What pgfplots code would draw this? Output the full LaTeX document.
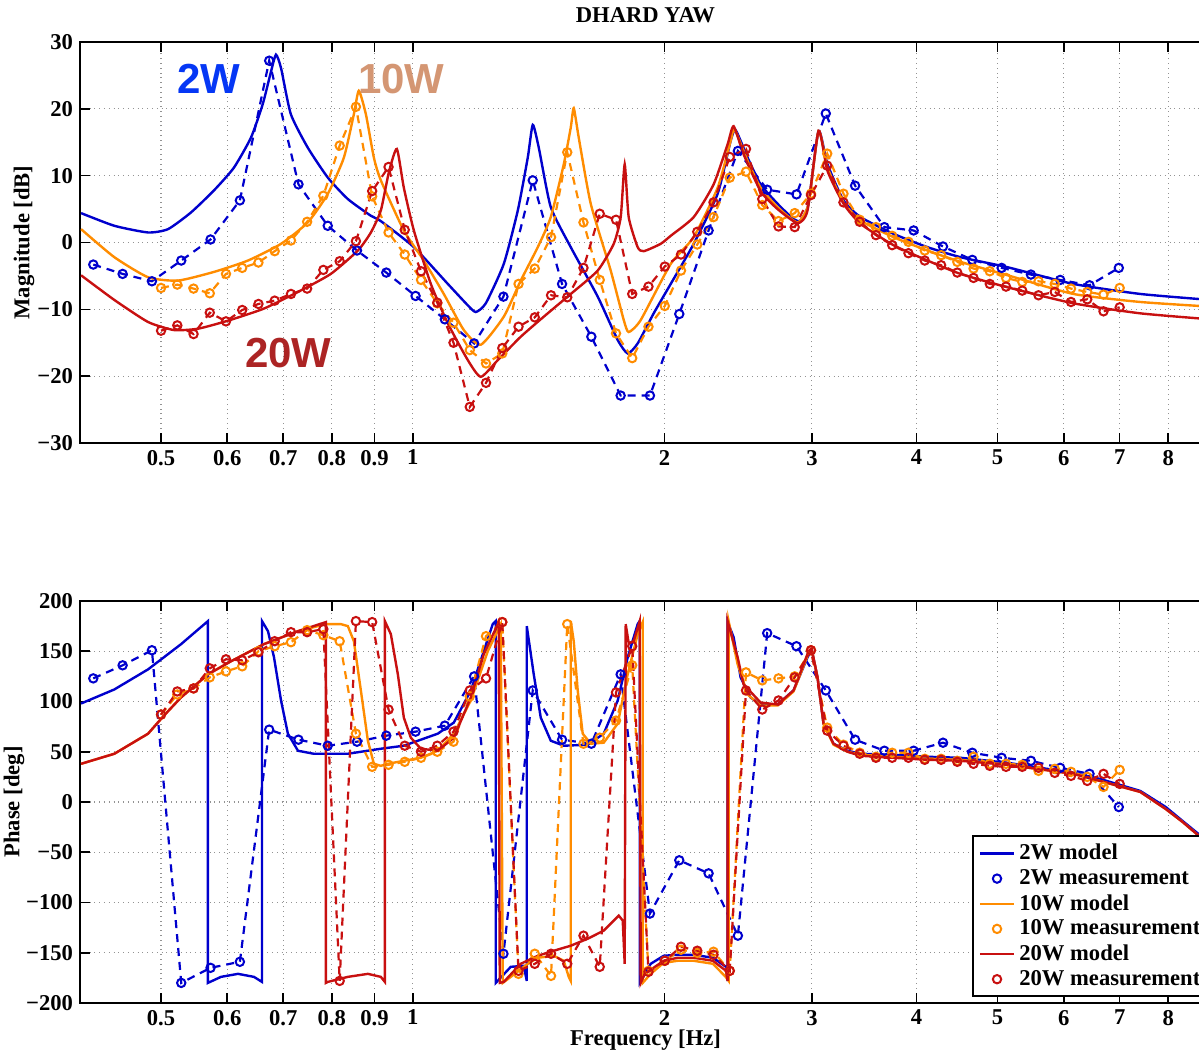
\documentclass[border=0pt]{standalone}
\usepackage{fontspec}
\setmainfont{Liberation Serif}
\newfontfamily\labelfont{Liberation Sans}
\usepackage{pgfplots}
\usepackage{pgfplotstable}
\pgfplotsset{compat=1.18}

\definecolor{mblue}{RGB}{0,0,205}
\definecolor{morange}{RGB}{255,140,0}
\definecolor{mred}{RGB}{200,16,16}
\definecolor{lblue}{RGB}{5,55,245}
\definecolor{ltan}{RGB}{212,150,115}
\definecolor{lred}{RGB}{172,36,36}

\newcommand{\lab}{\fontsize{11.3}{13.3}\selectfont\bfseries}

% measurements: frequency [Hz], magnitude [dB], phase [deg]
\pgfplotstableread[row sep=\\]{
f mag ph\\
0.4149 -3.3 123\\
0.4498 -4.7 136\\
0.4876 -5.8 151\\
0.5286 -2.7 -180\\
0.5730 0.45 -165\\
0.6212 6.3 -159\\
0.6734 27.2 72\\
0.7300 8.7 62\\
0.7913 2.5 56\\
0.8575 -1.2 60\\
0.9295 -4.5 66\\
1.0075 -8.0 70\\
1.0921 -11.5 76\\
1.1838 -15.1 125\\
1.2833 -8.1 -151\\
1.3911 9.3 111\\
1.5080 -6.2 62\\
1.6347 -14.1 58\\
1.7720 -22.9 127\\
1.9209 -22.9 -111\\
2.0823 -10.7 -58\\
2.2573 1.8 -71\\
2.4469 13.7 -133\\
2.6524 7.9 168\\
2.8753 7.2 155\\
3.1168 19.3 111\\
3.3787 8.5 62\\
3.6625 2.3 51\\
3.9702 1.8 51\\
4.3037 -0.6 59\\
4.6653 -2.6 49\\
5.0572 -3.8 44\\
5.4820 -4.8 41\\
5.9425 -5.6 34\\
6.4418 -6.4 28\\
6.9830 -3.8 -5\\
}\meastwo

\pgfplotstableread[row sep=\\]{
f mag ph\\
0.5000 -6.8 87\\
0.5229 -6.3 107\\
0.5468 -6.9 113\\
0.5718 -7.6 124\\
0.5979 -4.7 130\\
0.6252 -3.8 135\\
0.6538 -3.0 150\\
0.6837 -1.3 155\\
0.7150 0.3 159\\
0.7476 3.1 171\\
0.7818 7.0 166\\
0.8176 14.5 160\\
0.8550 20.3 68\\
0.8941 6.9 35\\
0.9353 1.5 37\\
0.9780 -1.8 40\\
1.0228 -5.6 44\\
1.0696 -9.1 50\\
1.1185 -12.0 60\\
1.1697 -16.1 105\\
1.2232 -18.1 165\\
1.2792 -16.6 179\\
1.3377 -6.2 -171\\
1.3989 -3.9 -151\\
1.4629 0.8 -173\\
1.5298 13.5 177\\
1.5997 3.0 58\\
1.6729 -5.6 64\\
1.7495 -13.6 81\\
1.8295 -17.3 136\\
1.9132 -12.6 -168\\
2.0007 -9.5 -158\\
2.0922 -4.2 -147\\
2.1879 -0.3 -150\\
2.2880 3.8 -149\\
2.3927 9.7 -168\\
2.5021 10.6 129\\
2.6166 5.6 121\\
2.7363 3.2 123\\
2.8614 4.4 125\\
2.9923 7.3 151\\
3.1292 13.3 74\\
3.2724 7.3 57\\
3.4221 3.4 49\\
3.5786 2.3 45\\
3.7423 1.0 49\\
3.9135 0.1 49\\
4.0925 -1.2 43\\
4.2819 -1.9 43\\
4.4762 -2.9 41\\
4.6810 -3.9 45\\
4.8951 -4.3 38\\
5.1190 -5.3 38\\
5.3532 -5.9 37\\
5.5981 -5.8 31\\
5.8541 -6.2 33\\
6.1219 -6.9 30\\
6.4019 -7.4 25\\
6.6948 -7.8 15\\
7.0000 -6.8 32\\
}\measten

\pgfplotstableread[row sep=\\]{
f mag ph\\
0.5000 -13.2 87\\
0.5229 -12.4 110\\
0.5468 -13.7 113\\
0.5718 -10.5 133\\
0.5979 -11.8 142\\
0.6252 -10.1 141\\
0.6538 -9.2 149\\
0.6837 -8.7 160\\
0.7150 -7.7 169\\
0.7476 -6.9 169\\
0.7818 -4.1 172\\
0.8176 -2.8 -178\\
0.8550 0.2 180\\
0.8941 7.7 179\\
0.9353 11.3 92\\
0.9780 1.9 56\\
1.0228 -4.3 50\\
1.0696 -9.0 56\\
1.1185 -15.0 70\\
1.1697 -24.6 111\\
1.2232 -21.0 123\\
1.2792 -15.8 179\\
1.3377 -12.6 -168\\
1.3989 -11.2 -161\\
1.4629 -7.9 -151\\
1.5298 -8.2 -161\\
1.5997 -3.8 -133\\
1.6729 4.3 -164\\
1.7495 3.4 109\\
1.8295 -7.7 155\\
1.9132 -6.6 -169\\
2.0007 -3.6 -158\\
2.0922 -1.8 -144\\
2.1879 1.6 -148\\
2.2880 6.0 -152\\
2.3927 12.8 -168\\
2.5021 14.0 111\\
2.6166 6.5 92\\
2.7363 2.4 101\\
2.8614 2.3 124\\
2.9923 7.1 151\\
3.1292 11.5 71\\
3.2724 6.0 56\\
3.4221 3.1 48\\
3.5786 1.1 44\\
3.7423 -0.4 44\\
3.9135 -1.6 44\\
4.0925 -2.7 42\\
4.2819 -3.4 42\\
4.4762 -4.5 40\\
4.6810 -5.3 38\\
4.8951 -6.2 36\\
5.1190 -6.6 35\\
5.3532 -7.2 35\\
5.5981 -7.9 34\\
5.8541 -7.4 29\\
6.1219 -8.9 26\\
6.4019 -8.5 21\\
6.6948 -10.3 28\\
7.0000 -9.7 18\\
}\meastwenty

\pgfplotsset{
  model/.style={line width=1.2pt, no markers},
  measline/.style={line width=1.1pt, dash pattern=on 4pt off 3pt, no markers},
  measmark/.style={only marks, mark=o, mark size=2.1pt, mark options={line width=1pt, solid}},
}

\begin{document}
\begin{tikzpicture}
\useasboundingbox (-40pt,-25.5pt) rectangle (559.5pt,501.5pt);

% ---------------- magnitude ----------------
\begin{axis}[
  name=mag,
  at={(0,280pt)}, anchor=south west,
  scale only axis, width=565.5pt, height=200.5pt,
  xmode=log, xmin=0.4, xmax=9,
  xtick={0.5,0.6,0.7,0.8,0.9,1,2,3,4,5,6,7,8},
  xticklabels={0.5,0.6,0.7,0.8,0.9,1,2,3,4,5,6,7,8},
  ymin=-30, ymax=30, ytick={-30,-20,-10,0,10,20,30},
  yticklabels={−30,−20,−10,0,10,20,30},
  grid=major,
  major grid style={dotted, gray!85, line width=0.55pt},
  tick align=inside,
  major tick length=5pt,
  tick style={black, line width=0.8pt},
  axis line style={line width=1pt},
  tick label style={font=\lab},
  ylabel={Magnitude [dB]},
  ylabel style={at={(axis description cs:-0.0495,0.5)}, anchor=center, font=\lab},
]

\addplot[model, mblue, smooth, tension=0.35] table[row sep=\\] {
0.4012 4.4\\ 0.4397 2.5\\ 0.4825 1.5\\ 0.5097 2.0\\ 0.5430 4.5\\ 0.5785 7.8\\
0.6111 11.2\\ 0.6405 15.7\\ 0.6616 20.7\\ 0.6768 25.6\\ 0.6861 28.1\\ 0.6957 26.1\\
0.7148 19.2\\ 0.7489 14.2\\ 0.7916 9.7\\ 0.8362 6.5\\ 0.8909 4.0\\ 0.9157 3.2\\
1.0028 -0.7\\ 1.1012 -6.2\\ 1.1634 -9.4\\ 1.1893 -10.4\\ 1.2224 -9.1\\ 1.2845 -3.2\\
1.3350 4.8\\ 1.3722 12.7\\ 1.3912 17.6\\ 1.4144 14.2\\ 1.4619 5.3\\ 1.5446 -0.7\\
1.6636 -8.1\\ 1.7579 -14.6\\ 1.8069 -16.6\\ 1.8573 -15.1\\ 1.9410 -10.6\\ 2.0338 -6.2\\
2.1667 -0.2\\ 2.3144 7.3\\ 2.3986 15.2\\ 2.4318 16.8\\ 2.5133 12.7\\ 2.6049 8.7\\
2.7293 5.8\\ 2.8522 3.5\\ 2.9076 3.3\\ 2.9723 5.8\\ 3.0552 16.7\\ 3.1320 11.7\\
3.2730 6.3\\ 3.4296 3.8\\ 3.7553 1.3\\ 4.1237 -0.7\\ 4.5162 -2.2\\ 5.1398 -3.7\\
6.1629 -6.2\\ 7.4092 -7.7\\ 9.0 -8.6\\
};
\addplot[measline, mblue] table[x=f, y=mag] {\meastwo};
\addplot[measmark, mblue] table[x=f, y=mag] {\meastwo};

\addplot[model, morange, smooth, tension=0.35] table[row sep=\\] {
0.4012 2.0\\ 0.4397 -2.2\\ 0.4825 -5.2\\ 0.5239 -5.7\\ 0.5785 -4.4\\ 0.6352 -2.7\\
0.6957 -0.2\\ 0.7489 3.0\\ 0.7916 7.3\\ 0.8271 12.7\\ 0.8502 19.2\\ 0.8618 22.7\\
0.8787 19.2\\ 0.8983 12.7\\ 0.9157 9.3\\ 0.9755 1.8\\ 1.0307 -2.7\\ 1.0890 -7.7\\
1.1507 -13.1\\ 1.2058 -15.3\\ 1.2845 -11.1\\ 1.3459 -5.7\\ 1.4105 -0.7\\ 1.4619 3.8\\
1.5151 11.7\\ 1.5446 17.2\\ 1.5574 20.1\\ 1.5789 15.7\\ 1.6320 5.8\\ 1.7242 -4.2\\
1.7871 -11.6\\ 1.8118 -13.4\\ 1.8727 -11.6\\ 2.0338 -3.2\\ 2.1667 0.8\\ 2.3144 8.2\\
2.3986 15.2\\ 2.4251 16.9\\ 2.5133 12.2\\ 2.6049 8.2\\ 2.7293 5.3\\ 2.8836 3.0\\
2.9723 5.8\\ 3.0552 16.7\\ 3.1320 11.2\\ 3.2730 6.0\\ 3.4296 3.3\\ 3.7553 0.8\\
4.1237 -1.2\\ 4.5162 -2.9\\ 5.1398 -4.9\\ 6.1629 -7.7\\ 7.4092 -8.9\\ 9.0 -9.6\\
};
\addplot[measline, morange] table[x=f, y=mag] {\measten};
\addplot[measmark, morange] table[x=f, y=mag] {\measten};

\addplot[model, mred, smooth, tension=0.35] table[row sep=\\] {
0.4012 -4.9\\ 0.4397 -8.6\\ 0.4825 -11.9\\ 0.5181 -13.1\\ 0.5535 -12.9\\ 0.6011 -11.7\\
0.6634 -9.9\\ 0.7290 -7.4\\ 0.7979 -4.7\\ 0.8596 -1.2\\ 0.8909 1.5\\ 0.9157 4.8\\
0.9361 10.5\\ 0.9569 14.0\\ 0.9755 8.2\\ 1.0028 1.8\\ 1.0508 -6.2\\ 1.1012 -12.1\\
1.1634 -17.6\\ 1.2058 -20.1\\ 1.2634 -17.6\\ 1.3459 -14.1\\ 1.4340 -11.1\\ 1.5446 -7.7\\
1.6636 -4.2\\ 1.7386 -0.2\\ 1.7724 3.8\\ 1.7920 11.7\\ 1.8118 3.8\\ 1.8573 -0.7\\
1.8883 -1.3\\ 1.9786 -0.2\\ 2.0338 1.0\\ 2.1667 3.8\\ 2.2889 8.7\\ 2.3787 14.7\\
2.4183 17.4\\ 2.4857 13.2\\ 2.6049 7.7\\ 2.7293 5.0\\ 2.8836 2.9\\ 2.9641 4.8\\
3.0552 16.7\\ 3.1320 10.7\\ 3.2730 5.8\\ 3.4296 2.8\\ 3.7553 -0.4\\ 4.1237 -2.7\\
4.5162 -4.7\\ 5.1398 -6.7\\ 6.1629 -9.1\\ 7.4092 -10.6\\ 9.0 -11.5\\
};
\addplot[measline, mred] table[x=f, y=mag] {\meastwenty};
\addplot[measmark, mred] table[x=f, y=mag] {\meastwenty};

\node[font=\labelfont\bfseries\fontsize{21}{21}\selectfont, text=lblue] at (axis cs:0.5706,24.5) {2W};
\node[font=\labelfont\bfseries\fontsize{21}{21}\selectfont, text=ltan] at (axis cs:0.9689,24.5) {10W};
\node[font=\labelfont\bfseries\fontsize{21}{21}\selectfont, text=lred] at (axis cs:0.7099,-16.5) {20W};
\end{axis}
\node[font=\lab, anchor=center] at ([yshift=13.5pt]mag.north) {DHARD YAW};

% ---------------- phase ----------------
\begin{axis}[
  at={(0,0)}, anchor=south west,
  scale only axis, width=565.5pt, height=201pt,
  xmode=log, xmin=0.4, xmax=9,
  xtick={0.5,0.6,0.7,0.8,0.9,1,2,3,4,5,6,7,8},
  xticklabels={0.5,0.6,0.7,0.8,0.9,1,2,3,4,5,6,7,8},
  ymin=-200, ymax=200, ytick={-200,-150,-100,-50,0,50,100,150,200},
  yticklabels={−200,−150,−100,−50,0,50,100,150,200},
  grid=major,
  major grid style={dotted, gray!85, line width=0.55pt},
  tick align=inside,
  major tick length=5pt,
  tick style={black, line width=0.8pt},
  axis line style={line width=1pt},
  tick label style={font=\lab},
  ylabel={Phase [deg]},
  ylabel style={at={(axis description cs:-0.0584,0.5)}, anchor=center, font=\lab},
  xlabel={Frequency [Hz]},
  xlabel style={at={(axis description cs:0.5,0)}, yshift=-18.5pt, anchor=center, font=\lab},
  legend style={at={(axis description cs:0.7887,0.015)}, anchor=south west,
    font=\lab, draw=black, line width=0.75pt, row sep=-0.6pt},
  legend cell align=left,
]

\addplot[model, mblue] table[row sep=\\] {
0.4012 98\\ 0.4397 112\\ 0.4825 132\\ 0.5282 157\\ 0.5689 180\\ 0.5689 -180\\
0.5897 -174\\ 0.6180 -171\\ 0.6458 -174\\ 0.6602 -179\\ 0.6602 180\\ 0.6712 170\\
0.6824 144\\ 0.6957 101\\ 0.7090 68\\ 0.7290 51\\ 0.7613 48\\ 0.8362 48\\
0.9157 53\\ 0.9755 56\\ 1.0712 68\\ 1.1194 79\\ 1.1730 111\\ 1.2156 150\\
1.2461 177\\ 1.2564 180\\ 1.2564 -180\\ 1.3095 -164\\ 1.3572 -163\\ 1.3684 -178\\
1.3684 175\\ 1.3950 127\\ 1.4221 84\\ 1.4619 61\\ 1.5151 56\\ 1.6186 57\\
1.6914 68\\ 1.7579 101\\ 1.8069 144\\ 1.8573 177\\ 1.8675 180\\ 1.8675 -180\\
1.9250 -161\\ 1.9951 -153\\ 2.0733 -152\\ 2.1667 -152\\ 2.2848 -155\\ 2.3680 -164\\
2.3787 -178\\ 2.3787 179\\ 2.4183 164\\ 2.4653 124\\ 2.5342 104\\ 2.6049 97\\
2.7293 97\\ 2.8522 111\\ 2.9641 144\\ 2.9969 152\\ 3.0468 124\\ 3.0975 78\\
3.1837 58\\ 3.3092 51\\ 3.4296 48\\ 3.7553 47\\ 4.1237 45\\ 4.5162 44\\
5.1398 39\\ 6.1629 29\\ 6.6283 23\\ 7.4092 11\\ 7.9467 -5\\ 8.3270 -19\\ 9.0 -42\\
};
\addlegendentry{2W model}
\addplot[measline, mblue, forget plot] table[x=f, y=ph] {\meastwo};
\addplot[measmark, mblue] table[x=f, y=ph] {\meastwo};
\addlegendentry{2W measurement}

\addplot[model, morange] table[row sep=\\] {
0.4012 38\\ 0.4397 48\\ 0.4825 68\\ 0.5040 86\\ 0.5282 104\\ 0.5689 127\\
0.6061 140\\ 0.6634 157\\ 0.7290 170\\ 0.7872 177\\ 0.8203 177\\ 0.8362 175\\
0.8502 160\\ 0.8667 111\\ 0.8836 61\\ 0.8983 38\\ 0.9157 36\\ 0.9336 38\\
0.9755 41\\ 1.0223 44\\ 1.0712 51\\ 1.1194 68\\ 1.1730 101\\ 1.2291 150\\
1.2738 177\\ 1.2808 -180\\ 1.3095 -174\\ 1.3722 -161\\ 1.4105 -155\\ 1.4740 -153\\
1.5151 -158\\ 1.5361 -174\\ 1.5446 -178\\ 1.5446 180\\ 1.5574 160\\ 1.5745 111\\
1.5963 68\\ 1.6320 58\\ 1.6914 59\\ 1.7579 78\\ 1.8069 127\\ 1.8573 167\\
1.8831 179\\ 1.8831 -180\\ 1.9250 -171\\ 1.9951 -160\\ 2.0733 -158\\ 2.1667 -158\\
2.2848 -161\\ 2.3658 -174\\ 2.3853 -178\\ 2.3853 180\\ 2.4451 137\\ 2.5133 107\\
2.6049 96\\ 2.7293 96\\ 2.8522 110\\ 2.9723 148\\ 2.9969 152\\ 3.0468 124\\
3.0975 78\\ 3.1837 57\\ 3.3092 50\\ 3.4296 47\\ 3.7553 45\\ 4.1237 43\\
4.5162 42\\ 5.1398 37\\ 6.1629 28\\ 6.6283 21\\ 7.4092 10\\ 7.9467 -7\\
8.3270 -20\\ 9.0 -44\\
};
\addlegendentry{10W model}
\addplot[measline, morange, forget plot] table[x=f, y=ph] {\measten};
\addplot[measmark, morange] table[x=f, y=ph] {\measten};
\addlegendentry{10W measurement}

\addplot[model, mred] table[row sep=\\] {
0.4012 38\\ 0.4397 48\\ 0.4825 68\\ 0.5040 86\\ 0.5282 104\\ 0.5689 127\\
0.6061 140\\ 0.6634 157\\ 0.7290 170\\ 0.7872 179\\ 0.7872 -180\\ 0.7916 -179\\
0.8362 -174\\ 0.8836 -171\\ 0.9157 -174\\ 0.9259 -179\\ 0.9259 180\\ 0.9413 167\\
0.9596 127\\ 0.9755 84\\ 0.9945 64\\ 1.0223 53\\ 1.0712 51\\ 1.1194 64\\
1.1730 104\\ 1.2156 147\\ 1.2668 179\\ 1.2703 -180\\ 1.2845 -179\\ 1.3459 -161\\
1.4105 -153\\ 1.4740 -148\\ 1.5446 -143\\ 1.6186 -136\\ 1.6914 -128\\ 1.7627 -113\\
1.7822 -118\\ 1.7920 -161\\ 1.7969 177\\ 1.8118 158\\ 1.8369 160\\ 1.8675 180\\
1.8727 -180\\ 1.8934 -171\\ 1.9951 -158\\ 2.0733 -155\\ 2.1667 -155\\ 2.2848 -158\\
2.3680 -168\\ 2.3787 -178\\ 2.3787 180\\ 2.4451 144\\ 2.4857 117\\ 2.6049 99\\
2.7293 97\\ 2.8522 111\\ 2.9723 150\\ 2.9969 153\\ 3.0468 124\\ 3.0975 78\\
3.1837 58\\ 3.3092 50\\ 3.4296 46\\ 3.7553 44\\ 4.1237 42\\ 4.5162 41\\
5.1398 37\\ 6.1629 28\\ 6.6283 21\\ 7.4092 10\\ 7.9467 -7\\ 8.3270 -20\\ 9.0 -44\\
};
\addlegendentry{20W model}
\addplot[measline, mred, forget plot] table[x=f, y=ph] {\meastwenty};
\addplot[measmark, mred] table[x=f, y=ph] {\meastwenty};
\addlegendentry{20W measurement}
\end{axis}
\end{tikzpicture}
\end{document}
